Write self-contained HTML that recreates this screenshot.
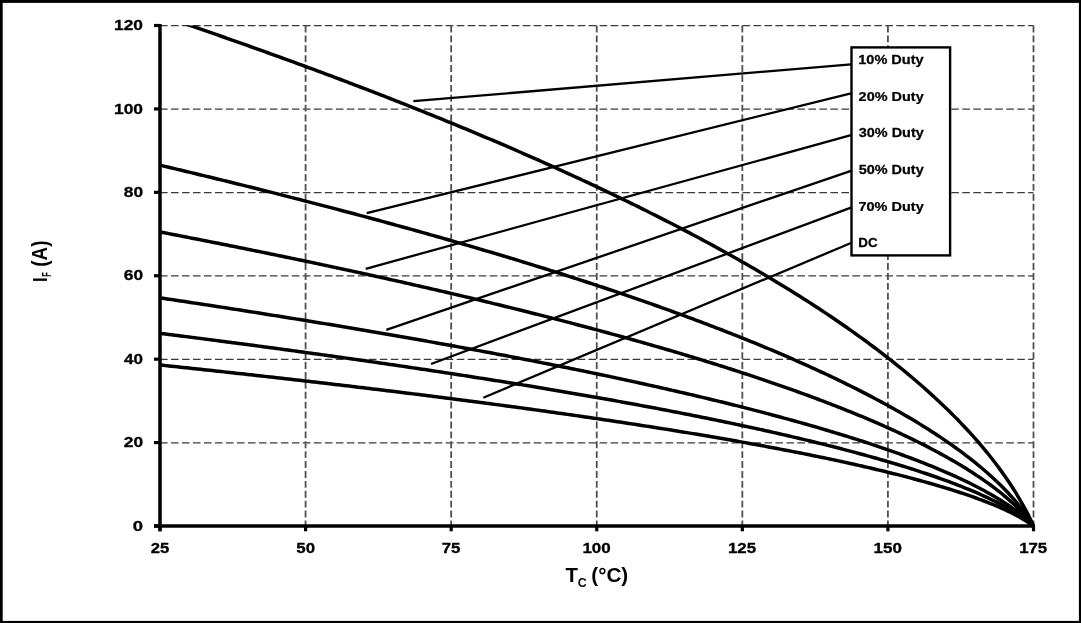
<!DOCTYPE html><html><head><meta charset="utf-8"><style>html,body{margin:0;padding:0;background:#fff;overflow:hidden;}svg{display:block;will-change:transform;}text{font-family:"Liberation Sans",sans-serif;font-weight:bold;fill:#000;font-kerning:none;}</style></head><body>
<svg width="1081" height="623" viewBox="0 0 1081 623">
<rect x="0" y="0" width="1081" height="623" fill="#000"/>
<rect x="2.7" y="2.9" width="1076.20" height="618.00" fill="#fff"/>
<line x1="160.0" y1="442.78" x2="1033.5" y2="442.78" stroke="#3a3a3a" stroke-width="1.3" stroke-dasharray="7.6 3.39"/>
<line x1="160.0" y1="359.37" x2="1033.5" y2="359.37" stroke="#3a3a3a" stroke-width="1.3" stroke-dasharray="7.6 3.39"/>
<line x1="160.0" y1="275.95" x2="1033.5" y2="275.95" stroke="#3a3a3a" stroke-width="1.3" stroke-dasharray="7.6 3.39"/>
<line x1="160.0" y1="192.53" x2="1033.5" y2="192.53" stroke="#3a3a3a" stroke-width="1.3" stroke-dasharray="7.6 3.39"/>
<line x1="160.0" y1="109.12" x2="1033.5" y2="109.12" stroke="#3a3a3a" stroke-width="1.3" stroke-dasharray="7.6 3.39"/>
<line x1="160.0" y1="25.70" x2="1033.5" y2="25.70" stroke="#3a3a3a" stroke-width="1.3" stroke-dasharray="7.6 3.39"/>
<line x1="305.58" y1="25.5" x2="305.58" y2="526.0" stroke="#505050" stroke-width="1.8" stroke-dasharray="6.9 3.0"/>
<line x1="451.17" y1="25.5" x2="451.17" y2="526.0" stroke="#505050" stroke-width="1.8" stroke-dasharray="6.9 3.0"/>
<line x1="596.75" y1="25.5" x2="596.75" y2="526.0" stroke="#505050" stroke-width="1.8" stroke-dasharray="6.9 3.0"/>
<line x1="742.33" y1="25.5" x2="742.33" y2="526.0" stroke="#505050" stroke-width="1.8" stroke-dasharray="6.9 3.0"/>
<line x1="887.92" y1="25.5" x2="887.92" y2="526.0" stroke="#505050" stroke-width="1.8" stroke-dasharray="6.9 3.0"/>
<line x1="1033.50" y1="25.5" x2="1033.50" y2="526.0" stroke="#505050" stroke-width="1.8" stroke-dasharray="6.9 3.0"/>
<defs><clipPath id="pc"><rect x="150" y="25.50" width="900" height="600"/></clipPath></defs>
<path d="M160.00,15.28 L162.91,16.26 L165.82,17.25 L168.74,18.23 L171.65,19.22 L174.56,20.20 L177.47,21.19 L180.38,22.19 L183.29,23.18 L186.20,24.17 L189.12,25.17 L192.03,26.17 L194.94,27.17 L197.85,28.17 L200.76,29.17 L203.68,30.18 L206.59,31.18 L209.50,32.19 L212.41,33.20 L215.32,34.21 L218.23,35.22 L221.15,36.24 L224.06,37.26 L226.97,38.28 L229.88,39.30 L232.79,40.32 L235.70,41.34 L238.62,42.37 L241.53,43.40 L244.44,44.43 L247.35,45.46 L250.26,46.49 L253.17,47.53 L256.08,48.56 L259.00,49.60 L261.91,50.64 L264.82,51.68 L267.73,52.73 L270.64,53.78 L273.56,54.82 L276.47,55.88 L279.38,56.93 L282.29,57.98 L285.20,59.04 L288.11,60.10 L291.02,61.16 L293.94,62.22 L296.85,63.28 L299.76,64.35 L302.67,65.42 L305.58,66.49 L308.50,67.56 L311.41,68.64 L314.32,69.72 L317.23,70.79 L320.14,71.88 L323.05,72.96 L325.97,74.04 L328.88,75.13 L331.79,76.22 L334.70,77.31 L337.61,78.41 L340.52,79.51 L343.44,80.60 L346.35,81.71 L349.26,82.81 L352.17,83.91 L355.08,85.02 L357.99,86.13 L360.90,87.24 L363.82,88.36 L366.73,89.48 L369.64,90.60 L372.55,91.72 L375.46,92.84 L378.38,93.97 L381.29,95.10 L384.20,96.23 L387.11,97.36 L390.02,98.50 L392.93,99.64 L395.85,100.78 L398.76,101.93 L401.67,103.07 L404.58,104.22 L407.49,105.37 L410.40,106.53 L413.31,107.69 L416.23,108.85 L419.14,110.01 L422.05,111.17 L424.96,112.34 L427.87,113.51 L430.79,114.68 L433.70,115.86 L436.61,117.04 L439.52,118.22 L442.43,119.40 L445.34,120.59 L448.25,121.78 L451.17,122.97 L454.08,124.17 L456.99,125.37 L459.90,126.57 L462.81,127.77 L465.73,128.98 L468.64,130.19 L471.55,131.40 L474.46,132.62 L477.37,133.84 L480.28,135.06 L483.19,136.29 L486.11,137.52 L489.02,138.75 L491.93,139.98 L494.84,141.22 L497.75,142.46 L500.67,143.71 L503.58,144.96 L506.49,146.21 L509.40,147.46 L512.31,148.72 L515.22,149.98 L518.13,151.25 L521.05,152.51 L523.96,153.79 L526.87,155.06 L529.78,156.34 L532.69,157.62 L535.61,158.91 L538.52,160.20 L541.43,161.49 L544.34,162.79 L547.25,164.09 L550.16,165.39 L553.08,166.70 L555.99,168.01 L558.90,169.33 L561.81,170.65 L564.72,171.97 L567.63,173.30 L570.55,174.63 L573.46,175.97 L576.37,177.31 L579.28,178.65 L582.19,180.00 L585.10,181.35 L588.01,182.70 L590.93,184.07 L593.84,185.43 L596.75,186.80 L599.66,188.17 L602.57,189.55 L605.49,190.93 L608.40,192.32 L611.31,193.71 L614.22,195.11 L617.13,196.51 L620.04,197.91 L622.95,199.32 L625.87,200.73 L628.78,202.15 L631.69,203.58 L634.60,205.01 L637.51,206.44 L640.42,207.88 L643.34,209.32 L646.25,210.77 L649.16,212.23 L652.07,213.69 L654.98,215.15 L657.89,216.62 L660.81,218.10 L663.72,219.58 L666.63,221.07 L669.54,222.56 L672.45,224.06 L675.37,225.56 L678.28,227.07 L681.19,228.59 L684.10,230.11 L687.01,231.64 L689.92,233.17 L692.84,234.71 L695.75,236.25 L698.66,237.81 L701.57,239.36 L704.48,240.93 L707.39,242.50 L710.30,244.08 L713.22,245.66 L716.13,247.25 L719.04,248.85 L721.95,250.46 L724.86,252.07 L727.77,253.69 L730.69,255.32 L733.60,256.95 L736.51,258.59 L739.42,260.24 L742.33,261.90 L745.25,263.56 L748.16,265.24 L751.07,266.92 L753.98,268.60 L756.89,270.30 L759.80,272.01 L762.72,273.72 L765.63,275.44 L768.54,277.17 L771.45,278.91 L774.36,280.66 L777.27,282.42 L780.18,284.18 L783.10,285.96 L786.01,287.75 L788.92,289.54 L791.83,291.35 L794.74,293.16 L797.65,294.99 L800.57,296.82 L803.48,298.67 L806.39,300.53 L809.30,302.40 L812.21,304.28 L815.12,306.17 L818.04,308.07 L820.95,309.98 L823.86,311.91 L826.77,313.85 L829.68,315.80 L832.60,317.76 L835.51,319.74 L838.42,321.73 L841.33,323.73 L844.24,325.75 L847.15,327.78 L850.07,329.82 L852.98,331.88 L855.89,333.96 L858.80,336.05 L861.71,338.16 L864.62,340.28 L867.53,342.42 L870.45,344.57 L873.36,346.74 L876.27,348.93 L879.18,351.14 L882.09,353.37 L885.00,355.61 L887.92,357.87 L890.83,360.16 L893.74,362.46 L896.65,364.79 L899.56,367.14 L902.48,369.51 L905.39,371.90 L908.30,374.31 L911.21,376.75 L914.12,379.22 L917.03,381.71 L919.95,384.23 L922.86,386.77 L925.77,389.35 L928.68,391.95 L931.59,394.58 L934.50,397.25 L937.41,399.94 L940.33,402.67 L943.24,405.44 L946.15,408.24 L949.06,411.08 L951.97,413.96 L954.88,416.88 L957.80,419.85 L960.71,422.86 L963.62,425.92 L966.53,429.02 L969.44,432.18 L972.36,435.39 L975.27,438.67 L978.18,442.00 L981.09,445.39 L984.00,448.86 L986.91,452.40 L989.83,456.01 L992.74,459.71 L995.65,463.50 L998.56,467.38 L1001.47,471.36 L1004.38,475.46 L1007.29,479.68 L1010.21,484.03 L1013.12,488.53 L1016.03,493.19 L1018.94,498.03 L1021.85,503.08 L1024.76,508.35 L1027.68,513.90 L1030.59,519.76 L1033.50,526.00" fill="none" stroke="#000" stroke-width="3.5" stroke-linejoin="round" clip-path="url(#pc)"/>
<path d="M160.00,165.22 L162.91,165.91 L165.82,166.60 L168.74,167.29 L171.65,167.98 L174.56,168.67 L177.47,169.36 L180.38,170.06 L183.29,170.75 L186.20,171.45 L189.12,172.14 L192.03,172.84 L194.94,173.54 L197.85,174.24 L200.76,174.95 L203.68,175.65 L206.59,176.35 L209.50,177.06 L212.41,177.77 L215.32,178.47 L218.23,179.18 L221.15,179.89 L224.06,180.61 L226.97,181.32 L229.88,182.03 L232.79,182.75 L235.70,183.47 L238.62,184.18 L241.53,184.90 L244.44,185.62 L247.35,186.35 L250.26,187.07 L253.17,187.79 L256.08,188.52 L259.00,189.25 L261.91,189.98 L264.82,190.71 L267.73,191.44 L270.64,192.17 L273.56,192.90 L276.47,193.64 L279.38,194.38 L282.29,195.12 L285.20,195.85 L288.11,196.60 L291.02,197.34 L293.94,198.08 L296.85,198.83 L299.76,199.57 L302.67,200.32 L305.58,201.07 L308.50,201.82 L311.41,202.58 L314.32,203.33 L317.23,204.09 L320.14,204.84 L323.05,205.60 L325.97,206.36 L328.88,207.12 L331.79,207.89 L334.70,208.65 L337.61,209.42 L340.52,210.19 L343.44,210.95 L346.35,211.73 L349.26,212.50 L352.17,213.27 L355.08,214.05 L357.99,214.83 L360.90,215.61 L363.82,216.39 L366.73,217.17 L369.64,217.95 L372.55,218.74 L375.46,219.53 L378.38,220.31 L381.29,221.11 L384.20,221.90 L387.11,222.69 L390.02,223.49 L392.93,224.29 L395.85,225.09 L398.76,225.89 L401.67,226.69 L404.58,227.49 L407.49,228.30 L410.40,229.11 L413.31,229.92 L416.23,230.73 L419.14,231.55 L422.05,232.36 L424.96,233.18 L427.87,234.00 L430.79,234.82 L433.70,235.65 L436.61,236.47 L439.52,237.30 L442.43,238.13 L445.34,238.96 L448.25,239.79 L451.17,240.63 L454.08,241.47 L456.99,242.31 L459.90,243.15 L462.81,243.99 L465.73,244.84 L468.64,245.68 L471.55,246.53 L474.46,247.39 L477.37,248.24 L480.28,249.10 L483.19,249.96 L486.11,250.82 L489.02,251.68 L491.93,252.55 L494.84,253.41 L497.75,254.28 L500.67,255.16 L503.58,256.03 L506.49,256.91 L509.40,257.79 L512.31,258.67 L515.22,259.55 L518.13,260.44 L521.05,261.33 L523.96,262.22 L526.87,263.11 L529.78,264.01 L532.69,264.91 L535.61,265.81 L538.52,266.71 L541.43,267.62 L544.34,268.52 L547.25,269.44 L550.16,270.35 L553.08,271.27 L555.99,272.19 L558.90,273.11 L561.81,274.03 L564.72,274.96 L567.63,275.89 L570.55,276.82 L573.46,277.76 L576.37,278.70 L579.28,279.64 L582.19,280.59 L585.10,281.53 L588.01,282.48 L590.93,283.44 L593.84,284.39 L596.75,285.35 L599.66,286.32 L602.57,287.28 L605.49,288.25 L608.40,289.22 L611.31,290.20 L614.22,291.18 L617.13,292.16 L620.04,293.14 L622.95,294.13 L625.87,295.12 L628.78,296.12 L631.69,297.12 L634.60,298.12 L637.51,299.13 L640.42,300.13 L643.34,301.15 L646.25,302.16 L649.16,303.18 L652.07,304.21 L654.98,305.24 L657.89,306.27 L660.81,307.30 L663.72,308.34 L666.63,309.38 L669.54,310.43 L672.45,311.48 L675.37,312.54 L678.28,313.59 L681.19,314.66 L684.10,315.72 L687.01,316.80 L689.92,317.87 L692.84,318.95 L695.75,320.04 L698.66,321.13 L701.57,322.22 L704.48,323.32 L707.39,324.42 L710.30,325.53 L713.22,326.64 L716.13,327.76 L719.04,328.88 L721.95,330.00 L724.86,331.14 L727.77,332.27 L730.69,333.41 L733.60,334.56 L736.51,335.71 L739.42,336.87 L742.33,338.03 L745.25,339.20 L748.16,340.38 L751.07,341.56 L753.98,342.74 L756.89,343.93 L759.80,345.13 L762.72,346.33 L765.63,347.54 L768.54,348.76 L771.45,349.98 L774.36,351.21 L777.27,352.44 L780.18,353.68 L783.10,354.93 L786.01,356.19 L788.92,357.45 L791.83,358.72 L794.74,359.99 L797.65,361.28 L800.57,362.57 L803.48,363.86 L806.39,365.17 L809.30,366.48 L812.21,367.80 L815.12,369.13 L818.04,370.47 L820.95,371.82 L823.86,373.17 L826.77,374.53 L829.68,375.91 L832.60,377.29 L835.51,378.68 L838.42,380.08 L841.33,381.49 L844.24,382.90 L847.15,384.33 L850.07,385.77 L852.98,387.22 L855.89,388.68 L858.80,390.15 L861.71,391.64 L864.62,393.13 L867.53,394.64 L870.45,396.15 L873.36,397.68 L876.27,399.23 L879.18,400.78 L882.09,402.35 L885.00,403.93 L887.92,405.53 L890.83,407.14 L893.74,408.76 L896.65,410.40 L899.56,412.06 L902.48,413.73 L905.39,415.42 L908.30,417.12 L911.21,418.84 L914.12,420.58 L917.03,422.34 L919.95,424.12 L922.86,425.92 L925.77,427.74 L928.68,429.58 L931.59,431.44 L934.50,433.32 L937.41,435.23 L940.33,437.16 L943.24,439.12 L946.15,441.10 L949.06,443.11 L951.97,445.16 L954.88,447.23 L957.80,449.33 L960.71,451.46 L963.62,453.63 L966.53,455.84 L969.44,458.09 L972.36,460.37 L975.27,462.70 L978.18,465.07 L981.09,467.49 L984.00,469.96 L986.91,472.48 L989.83,475.07 L992.74,477.71 L995.65,480.42 L998.56,483.20 L1001.47,486.06 L1004.38,489.01 L1007.29,492.05 L1010.21,495.19 L1013.12,498.44 L1016.03,501.82 L1018.94,505.34 L1021.85,509.03 L1024.76,512.90 L1027.68,516.98 L1030.59,521.33 L1033.50,526.00" fill="none" stroke="#000" stroke-width="3.5" stroke-linejoin="round" clip-path="url(#pc)"/>
<path d="M160.00,231.96 L162.91,232.52 L165.82,233.08 L168.74,233.64 L171.65,234.20 L174.56,234.76 L177.47,235.33 L180.38,235.90 L183.29,236.46 L186.20,237.03 L189.12,237.60 L192.03,238.17 L194.94,238.74 L197.85,239.31 L200.76,239.88 L203.68,240.45 L206.59,241.03 L209.50,241.60 L212.41,242.18 L215.32,242.76 L218.23,243.33 L221.15,243.91 L224.06,244.49 L226.97,245.07 L229.88,245.66 L232.79,246.24 L235.70,246.82 L238.62,247.41 L241.53,248.00 L244.44,248.58 L247.35,249.17 L250.26,249.76 L253.17,250.35 L256.08,250.94 L259.00,251.54 L261.91,252.13 L264.82,252.73 L267.73,253.32 L270.64,253.92 L273.56,254.52 L276.47,255.12 L279.38,255.72 L282.29,256.32 L285.20,256.92 L288.11,257.53 L291.02,258.13 L293.94,258.74 L296.85,259.35 L299.76,259.95 L302.67,260.56 L305.58,261.17 L308.50,261.79 L311.41,262.40 L314.32,263.01 L317.23,263.63 L320.14,264.25 L323.05,264.87 L325.97,265.49 L328.88,266.11 L331.79,266.73 L334.70,267.35 L337.61,267.98 L340.52,268.60 L343.44,269.23 L346.35,269.86 L349.26,270.49 L352.17,271.12 L355.08,271.75 L357.99,272.38 L360.90,273.02 L363.82,273.66 L366.73,274.29 L369.64,274.93 L372.55,275.57 L375.46,276.21 L378.38,276.86 L381.29,277.50 L384.20,278.15 L387.11,278.80 L390.02,279.44 L392.93,280.09 L395.85,280.75 L398.76,281.40 L401.67,282.05 L404.58,282.71 L407.49,283.37 L410.40,284.03 L413.31,284.69 L416.23,285.35 L419.14,286.01 L422.05,286.68 L424.96,287.34 L427.87,288.01 L430.79,288.68 L433.70,289.35 L436.61,290.03 L439.52,290.70 L442.43,291.38 L445.34,292.05 L448.25,292.73 L451.17,293.41 L454.08,294.10 L456.99,294.78 L459.90,295.47 L462.81,296.15 L465.73,296.84 L468.64,297.53 L471.55,298.23 L474.46,298.92 L477.37,299.62 L480.28,300.32 L483.19,301.02 L486.11,301.72 L489.02,302.42 L491.93,303.13 L494.84,303.83 L497.75,304.54 L500.67,305.25 L503.58,305.97 L506.49,306.68 L509.40,307.40 L512.31,308.12 L515.22,308.84 L518.13,309.56 L521.05,310.28 L523.96,311.01 L526.87,311.74 L529.78,312.47 L532.69,313.20 L535.61,313.93 L538.52,314.67 L541.43,315.41 L544.34,316.15 L547.25,316.89 L550.16,317.64 L553.08,318.39 L555.99,319.13 L558.90,319.89 L561.81,320.64 L564.72,321.40 L567.63,322.15 L570.55,322.91 L573.46,323.68 L576.37,324.44 L579.28,325.21 L582.19,325.98 L585.10,326.75 L588.01,327.53 L590.93,328.30 L593.84,329.08 L596.75,329.87 L599.66,330.65 L602.57,331.44 L605.49,332.23 L608.40,333.02 L611.31,333.82 L614.22,334.61 L617.13,335.41 L620.04,336.22 L622.95,337.02 L625.87,337.83 L628.78,338.64 L631.69,339.45 L634.60,340.27 L637.51,341.09 L640.42,341.91 L643.34,342.74 L646.25,343.57 L649.16,344.40 L652.07,345.23 L654.98,346.07 L657.89,346.91 L660.81,347.75 L663.72,348.60 L666.63,349.45 L669.54,350.30 L672.45,351.16 L675.37,352.02 L678.28,352.88 L681.19,353.75 L684.10,354.62 L687.01,355.49 L689.92,356.37 L692.84,357.25 L695.75,358.13 L698.66,359.02 L701.57,359.91 L704.48,360.81 L707.39,361.71 L710.30,362.61 L713.22,363.52 L716.13,364.43 L719.04,365.34 L721.95,366.26 L724.86,367.18 L727.77,368.11 L730.69,369.04 L733.60,369.97 L736.51,370.91 L739.42,371.85 L742.33,372.80 L745.25,373.76 L748.16,374.71 L751.07,375.67 L753.98,376.64 L756.89,377.61 L759.80,378.59 L762.72,379.57 L765.63,380.55 L768.54,381.54 L771.45,382.54 L774.36,383.54 L777.27,384.55 L780.18,385.56 L783.10,386.57 L786.01,387.60 L788.92,388.63 L791.83,389.66 L794.74,390.70 L797.65,391.74 L800.57,392.80 L803.48,393.85 L806.39,394.92 L809.30,395.99 L812.21,397.07 L815.12,398.15 L818.04,399.24 L820.95,400.34 L823.86,401.44 L826.77,402.55 L829.68,403.67 L832.60,404.79 L835.51,405.93 L838.42,407.07 L841.33,408.22 L844.24,409.37 L847.15,410.54 L850.07,411.71 L852.98,412.89 L855.89,414.08 L858.80,415.28 L861.71,416.49 L864.62,417.71 L867.53,418.93 L870.45,420.17 L873.36,421.42 L876.27,422.68 L879.18,423.94 L882.09,425.22 L885.00,426.51 L887.92,427.81 L890.83,429.12 L893.74,430.45 L896.65,431.78 L899.56,433.13 L902.48,434.50 L905.39,435.87 L908.30,437.26 L911.21,438.66 L914.12,440.08 L917.03,441.52 L919.95,442.97 L922.86,444.43 L925.77,445.91 L928.68,447.41 L931.59,448.93 L934.50,450.46 L937.41,452.02 L940.33,453.59 L943.24,455.19 L946.15,456.81 L949.06,458.45 L951.97,460.11 L954.88,461.80 L957.80,463.51 L960.71,465.25 L963.62,467.02 L966.53,468.82 L969.44,470.65 L972.36,472.51 L975.27,474.41 L978.18,476.34 L981.09,478.31 L984.00,480.33 L986.91,482.38 L989.83,484.49 L992.74,486.64 L995.65,488.85 L998.56,491.12 L1001.47,493.45 L1004.38,495.85 L1007.29,498.33 L1010.21,500.89 L1013.12,503.54 L1016.03,506.29 L1018.94,509.16 L1021.85,512.17 L1024.76,515.32 L1027.68,518.65 L1030.59,522.20 L1033.50,526.00" fill="none" stroke="#000" stroke-width="3.5" stroke-linejoin="round" clip-path="url(#pc)"/>
<path d="M160.00,297.86 L162.91,298.29 L165.82,298.72 L168.74,299.16 L171.65,299.60 L174.56,300.03 L177.47,300.47 L180.38,300.91 L183.29,301.35 L186.20,301.79 L189.12,302.23 L192.03,302.67 L194.94,303.12 L197.85,303.56 L200.76,304.00 L203.68,304.45 L206.59,304.89 L209.50,305.34 L212.41,305.79 L215.32,306.23 L218.23,306.68 L221.15,307.13 L224.06,307.58 L226.97,308.03 L229.88,308.49 L232.79,308.94 L235.70,309.39 L238.62,309.85 L241.53,310.30 L244.44,310.76 L247.35,311.21 L250.26,311.67 L253.17,312.13 L256.08,312.59 L259.00,313.05 L261.91,313.51 L264.82,313.97 L267.73,314.43 L270.64,314.90 L273.56,315.36 L276.47,315.83 L279.38,316.29 L282.29,316.76 L285.20,317.23 L288.11,317.69 L291.02,318.16 L293.94,318.63 L296.85,319.11 L299.76,319.58 L302.67,320.05 L305.58,320.53 L308.50,321.00 L311.41,321.48 L314.32,321.95 L317.23,322.43 L320.14,322.91 L323.05,323.39 L325.97,323.87 L328.88,324.35 L331.79,324.83 L334.70,325.32 L337.61,325.80 L340.52,326.29 L343.44,326.77 L346.35,327.26 L349.26,327.75 L352.17,328.24 L355.08,328.73 L357.99,329.22 L360.90,329.72 L363.82,330.21 L366.73,330.70 L369.64,331.20 L372.55,331.70 L375.46,332.19 L378.38,332.69 L381.29,333.19 L384.20,333.69 L387.11,334.20 L390.02,334.70 L392.93,335.21 L395.85,335.71 L398.76,336.22 L401.67,336.73 L404.58,337.23 L407.49,337.74 L410.40,338.26 L413.31,338.77 L416.23,339.28 L419.14,339.80 L422.05,340.31 L424.96,340.83 L427.87,341.35 L430.79,341.87 L433.70,342.39 L436.61,342.91 L439.52,343.43 L442.43,343.96 L445.34,344.48 L448.25,345.01 L451.17,345.54 L454.08,346.07 L456.99,346.60 L459.90,347.13 L462.81,347.67 L465.73,348.20 L468.64,348.74 L471.55,349.27 L474.46,349.81 L477.37,350.35 L480.28,350.90 L483.19,351.44 L486.11,351.98 L489.02,352.53 L491.93,353.08 L494.84,353.62 L497.75,354.17 L500.67,354.73 L503.58,355.28 L506.49,355.83 L509.40,356.39 L512.31,356.95 L515.22,357.51 L518.13,358.07 L521.05,358.63 L523.96,359.19 L526.87,359.76 L529.78,360.32 L532.69,360.89 L535.61,361.46 L538.52,362.03 L541.43,362.61 L544.34,363.18 L547.25,363.76 L550.16,364.33 L553.08,364.91 L555.99,365.50 L558.90,366.08 L561.81,366.66 L564.72,367.25 L567.63,367.84 L570.55,368.43 L573.46,369.02 L576.37,369.61 L579.28,370.21 L582.19,370.81 L585.10,371.41 L588.01,372.01 L590.93,372.61 L593.84,373.22 L596.75,373.82 L599.66,374.43 L602.57,375.04 L605.49,375.65 L608.40,376.27 L611.31,376.89 L614.22,377.51 L617.13,378.13 L620.04,378.75 L622.95,379.37 L625.87,380.00 L628.78,380.63 L631.69,381.26 L634.60,381.90 L637.51,382.53 L640.42,383.17 L643.34,383.81 L646.25,384.45 L649.16,385.10 L652.07,385.75 L654.98,386.39 L657.89,387.05 L660.81,387.70 L663.72,388.36 L666.63,389.02 L669.54,389.68 L672.45,390.34 L675.37,391.01 L678.28,391.68 L681.19,392.35 L684.10,393.03 L687.01,393.71 L689.92,394.39 L692.84,395.07 L695.75,395.76 L698.66,396.44 L701.57,397.14 L704.48,397.83 L707.39,398.53 L710.30,399.23 L713.22,399.93 L716.13,400.64 L719.04,401.35 L721.95,402.06 L724.86,402.77 L727.77,403.49 L730.69,404.21 L733.60,404.94 L736.51,405.67 L739.42,406.40 L742.33,407.14 L745.25,407.88 L748.16,408.62 L751.07,409.36 L753.98,410.11 L756.89,410.87 L759.80,411.62 L762.72,412.38 L765.63,413.15 L768.54,413.92 L771.45,414.69 L774.36,415.47 L777.27,416.25 L780.18,417.03 L783.10,417.82 L786.01,418.62 L788.92,419.41 L791.83,420.22 L794.74,421.02 L797.65,421.83 L800.57,422.65 L803.48,423.47 L806.39,424.30 L809.30,425.13 L812.21,425.96 L815.12,426.80 L818.04,427.65 L820.95,428.50 L823.86,429.36 L826.77,430.22 L829.68,431.08 L832.60,431.96 L835.51,432.84 L838.42,433.72 L841.33,434.61 L844.24,435.51 L847.15,436.41 L850.07,437.32 L852.98,438.24 L855.89,439.16 L858.80,440.10 L861.71,441.03 L864.62,441.98 L867.53,442.93 L870.45,443.89 L873.36,444.86 L876.27,445.83 L879.18,446.82 L882.09,447.81 L885.00,448.81 L887.92,449.82 L890.83,450.83 L893.74,451.86 L896.65,452.90 L899.56,453.95 L902.48,455.00 L905.39,456.07 L908.30,457.15 L911.21,458.24 L914.12,459.34 L917.03,460.45 L919.95,461.57 L922.86,462.71 L925.77,463.86 L928.68,465.02 L931.59,466.20 L934.50,467.39 L937.41,468.60 L940.33,469.82 L943.24,471.06 L946.15,472.31 L949.06,473.59 L951.97,474.88 L954.88,476.19 L957.80,477.52 L960.71,478.87 L963.62,480.24 L966.53,481.63 L969.44,483.05 L972.36,484.50 L975.27,485.97 L978.18,487.47 L981.09,489.00 L984.00,490.56 L986.91,492.16 L989.83,493.79 L992.74,495.46 L995.65,497.18 L998.56,498.94 L1001.47,500.75 L1004.38,502.61 L1007.29,504.53 L1010.21,506.51 L1013.12,508.57 L1016.03,510.71 L1018.94,512.94 L1021.85,515.27 L1024.76,517.71 L1027.68,520.30 L1030.59,523.05 L1033.50,526.00" fill="none" stroke="#000" stroke-width="3.5" stroke-linejoin="round" clip-path="url(#pc)"/>
<path d="M160.00,333.31 L162.91,333.67 L165.82,334.04 L168.74,334.41 L171.65,334.78 L174.56,335.15 L177.47,335.52 L180.38,335.89 L183.29,336.26 L186.20,336.63 L189.12,337.00 L192.03,337.38 L194.94,337.75 L197.85,338.13 L200.76,338.50 L203.68,338.88 L206.59,339.25 L209.50,339.63 L212.41,340.01 L215.32,340.38 L218.23,340.76 L221.15,341.14 L224.06,341.52 L226.97,341.90 L229.88,342.29 L232.79,342.67 L235.70,343.05 L238.62,343.43 L241.53,343.82 L244.44,344.20 L247.35,344.59 L250.26,344.98 L253.17,345.36 L256.08,345.75 L259.00,346.14 L261.91,346.53 L264.82,346.92 L267.73,347.31 L270.64,347.70 L273.56,348.09 L276.47,348.49 L279.38,348.88 L282.29,349.27 L285.20,349.67 L288.11,350.06 L291.02,350.46 L293.94,350.86 L296.85,351.26 L299.76,351.65 L302.67,352.05 L305.58,352.45 L308.50,352.86 L311.41,353.26 L314.32,353.66 L317.23,354.06 L320.14,354.47 L323.05,354.87 L325.97,355.28 L328.88,355.69 L331.79,356.09 L334.70,356.50 L337.61,356.91 L340.52,357.32 L343.44,357.73 L346.35,358.14 L349.26,358.56 L352.17,358.97 L355.08,359.39 L357.99,359.80 L360.90,360.22 L363.82,360.63 L366.73,361.05 L369.64,361.47 L372.55,361.89 L375.46,362.31 L378.38,362.73 L381.29,363.15 L384.20,363.58 L387.11,364.00 L390.02,364.43 L392.93,364.85 L395.85,365.28 L398.76,365.71 L401.67,366.14 L404.58,366.57 L407.49,367.00 L410.40,367.43 L413.31,367.86 L416.23,368.30 L419.14,368.73 L422.05,369.17 L424.96,369.60 L427.87,370.04 L430.79,370.48 L433.70,370.92 L436.61,371.36 L439.52,371.80 L442.43,372.25 L445.34,372.69 L448.25,373.14 L451.17,373.58 L454.08,374.03 L456.99,374.48 L459.90,374.93 L462.81,375.38 L465.73,375.83 L468.64,376.28 L471.55,376.74 L474.46,377.19 L477.37,377.65 L480.28,378.11 L483.19,378.56 L486.11,379.02 L489.02,379.48 L491.93,379.95 L494.84,380.41 L497.75,380.87 L500.67,381.34 L503.58,381.81 L506.49,382.28 L509.40,382.75 L512.31,383.22 L515.22,383.69 L518.13,384.16 L521.05,384.64 L523.96,385.11 L526.87,385.59 L529.78,386.07 L532.69,386.55 L535.61,387.03 L538.52,387.51 L541.43,388.00 L544.34,388.48 L547.25,388.97 L550.16,389.46 L553.08,389.95 L555.99,390.44 L558.90,390.93 L561.81,391.42 L564.72,391.92 L567.63,392.42 L570.55,392.91 L573.46,393.41 L576.37,393.92 L579.28,394.42 L582.19,394.92 L585.10,395.43 L588.01,395.94 L590.93,396.45 L593.84,396.96 L596.75,397.47 L599.66,397.98 L602.57,398.50 L605.49,399.02 L608.40,399.54 L611.31,400.06 L614.22,400.58 L617.13,401.10 L620.04,401.63 L622.95,402.16 L625.87,402.69 L628.78,403.22 L631.69,403.75 L634.60,404.29 L637.51,404.83 L640.42,405.36 L643.34,405.91 L646.25,406.45 L649.16,406.99 L652.07,407.54 L654.98,408.09 L657.89,408.64 L660.81,409.19 L663.72,409.75 L666.63,410.30 L669.54,410.86 L672.45,411.42 L675.37,411.99 L678.28,412.55 L681.19,413.12 L684.10,413.69 L687.01,414.26 L689.92,414.84 L692.84,415.41 L695.75,415.99 L698.66,416.58 L701.57,417.16 L704.48,417.75 L707.39,418.34 L710.30,418.93 L713.22,419.52 L716.13,420.12 L719.04,420.72 L721.95,421.32 L724.86,421.92 L727.77,422.53 L730.69,423.14 L733.60,423.75 L736.51,424.37 L739.42,424.99 L742.33,425.61 L745.25,426.23 L748.16,426.86 L751.07,427.49 L753.98,428.12 L756.89,428.76 L759.80,429.40 L762.72,430.04 L765.63,430.69 L768.54,431.33 L771.45,431.99 L774.36,432.64 L777.27,433.30 L780.18,433.97 L783.10,434.63 L786.01,435.30 L788.92,435.98 L791.83,436.65 L794.74,437.33 L797.65,438.02 L800.57,438.71 L803.48,439.40 L806.39,440.10 L809.30,440.80 L812.21,441.51 L815.12,442.22 L818.04,442.93 L820.95,443.65 L823.86,444.37 L826.77,445.10 L829.68,445.83 L832.60,446.57 L835.51,447.31 L838.42,448.06 L841.33,448.81 L844.24,449.57 L847.15,450.34 L850.07,451.10 L852.98,451.88 L855.89,452.66 L858.80,453.44 L861.71,454.24 L864.62,455.03 L867.53,455.84 L870.45,456.65 L873.36,457.47 L876.27,458.29 L879.18,459.12 L882.09,459.96 L885.00,460.80 L887.92,461.65 L890.83,462.51 L893.74,463.38 L896.65,464.26 L899.56,465.14 L902.48,466.04 L905.39,466.94 L908.30,467.85 L911.21,468.77 L914.12,469.70 L917.03,470.64 L919.95,471.59 L922.86,472.55 L925.77,473.52 L928.68,474.50 L931.59,475.49 L934.50,476.50 L937.41,477.52 L940.33,478.55 L943.24,479.60 L946.15,480.66 L949.06,481.73 L951.97,482.82 L954.88,483.93 L957.80,485.05 L960.71,486.19 L963.62,487.35 L966.53,488.53 L969.44,489.73 L972.36,490.95 L975.27,492.19 L978.18,493.46 L981.09,494.75 L984.00,496.07 L986.91,497.42 L989.83,498.80 L992.74,500.21 L995.65,501.66 L998.56,503.14 L1001.47,504.67 L1004.38,506.24 L1007.29,507.87 L1010.21,509.54 L1013.12,511.28 L1016.03,513.09 L1018.94,514.97 L1021.85,516.93 L1024.76,519.00 L1027.68,521.18 L1030.59,523.51 L1033.50,526.00" fill="none" stroke="#000" stroke-width="3.5" stroke-linejoin="round" clip-path="url(#pc)"/>
<path d="M160.00,365.01 L162.91,365.31 L165.82,365.62 L168.74,365.93 L171.65,366.24 L174.56,366.54 L177.47,366.85 L180.38,367.16 L183.29,367.47 L186.20,367.78 L189.12,368.09 L192.03,368.41 L194.94,368.72 L197.85,369.03 L200.76,369.34 L203.68,369.66 L206.59,369.97 L209.50,370.29 L212.41,370.60 L215.32,370.92 L218.23,371.24 L221.15,371.55 L224.06,371.87 L226.97,372.19 L229.88,372.51 L232.79,372.83 L235.70,373.15 L238.62,373.47 L241.53,373.79 L244.44,374.11 L247.35,374.43 L250.26,374.75 L253.17,375.08 L256.08,375.40 L259.00,375.73 L261.91,376.05 L264.82,376.38 L267.73,376.70 L270.64,377.03 L273.56,377.36 L276.47,377.69 L279.38,378.02 L282.29,378.35 L285.20,378.68 L288.11,379.01 L291.02,379.34 L293.94,379.67 L296.85,380.00 L299.76,380.33 L302.67,380.67 L305.58,381.00 L308.50,381.34 L311.41,381.67 L314.32,382.01 L317.23,382.35 L320.14,382.69 L323.05,383.02 L325.97,383.36 L328.88,383.70 L331.79,384.04 L334.70,384.39 L337.61,384.73 L340.52,385.07 L343.44,385.41 L346.35,385.76 L349.26,386.10 L352.17,386.45 L355.08,386.79 L357.99,387.14 L360.90,387.49 L363.82,387.84 L366.73,388.19 L369.64,388.54 L372.55,388.89 L375.46,389.24 L378.38,389.59 L381.29,389.94 L384.20,390.30 L387.11,390.65 L390.02,391.01 L392.93,391.36 L395.85,391.72 L398.76,392.08 L401.67,392.44 L404.58,392.79 L407.49,393.15 L410.40,393.52 L413.31,393.88 L416.23,394.24 L419.14,394.60 L422.05,394.97 L424.96,395.33 L427.87,395.70 L430.79,396.06 L433.70,396.43 L436.61,396.80 L439.52,397.17 L442.43,397.54 L445.34,397.91 L448.25,398.28 L451.17,398.66 L454.08,399.03 L456.99,399.40 L459.90,399.78 L462.81,400.16 L465.73,400.53 L468.64,400.91 L471.55,401.29 L474.46,401.67 L477.37,402.05 L480.28,402.43 L483.19,402.82 L486.11,403.20 L489.02,403.59 L491.93,403.97 L494.84,404.36 L497.75,404.75 L500.67,405.14 L503.58,405.53 L506.49,405.92 L509.40,406.31 L512.31,406.70 L515.22,407.10 L518.13,407.49 L521.05,407.89 L523.96,408.29 L526.87,408.69 L529.78,409.09 L532.69,409.49 L535.61,409.89 L538.52,410.29 L541.43,410.70 L544.34,411.10 L547.25,411.51 L550.16,411.92 L553.08,412.33 L555.99,412.74 L558.90,413.15 L561.81,413.56 L564.72,413.98 L567.63,414.39 L570.55,414.81 L573.46,415.22 L576.37,415.64 L579.28,416.06 L582.19,416.49 L585.10,416.91 L588.01,417.33 L590.93,417.76 L593.84,418.19 L596.75,418.61 L599.66,419.04 L602.57,419.47 L605.49,419.91 L608.40,420.34 L611.31,420.78 L614.22,421.21 L617.13,421.65 L620.04,422.09 L622.95,422.53 L625.87,422.97 L628.78,423.42 L631.69,423.86 L634.60,424.31 L637.51,424.76 L640.42,425.21 L643.34,425.66 L646.25,426.11 L649.16,426.57 L652.07,427.03 L654.98,427.49 L657.89,427.95 L660.81,428.41 L663.72,428.87 L666.63,429.34 L669.54,429.80 L672.45,430.27 L675.37,430.74 L678.28,431.22 L681.19,431.69 L684.10,432.17 L687.01,432.64 L689.92,433.12 L692.84,433.61 L695.75,434.09 L698.66,434.58 L701.57,435.06 L704.48,435.55 L707.39,436.05 L710.30,436.54 L713.22,437.04 L716.13,437.54 L719.04,438.04 L721.95,438.54 L724.86,439.04 L727.77,439.55 L730.69,440.06 L733.60,440.57 L736.51,441.09 L739.42,441.60 L742.33,442.12 L745.25,442.64 L748.16,443.17 L751.07,443.69 L753.98,444.22 L756.89,444.75 L759.80,445.29 L762.72,445.83 L765.63,446.37 L768.54,446.91 L771.45,447.45 L774.36,448.00 L777.27,448.55 L780.18,449.11 L783.10,449.66 L786.01,450.22 L788.92,450.79 L791.83,451.35 L794.74,451.92 L797.65,452.49 L800.57,453.07 L803.48,453.65 L806.39,454.23 L809.30,454.82 L812.21,455.41 L815.12,456.00 L818.04,456.60 L820.95,457.20 L823.86,457.80 L826.77,458.41 L829.68,459.02 L832.60,459.64 L835.51,460.26 L838.42,460.88 L841.33,461.51 L844.24,462.14 L847.15,462.78 L850.07,463.42 L852.98,464.07 L855.89,464.72 L858.80,465.38 L861.71,466.04 L864.62,466.71 L867.53,467.38 L870.45,468.06 L873.36,468.74 L876.27,469.43 L879.18,470.12 L882.09,470.82 L885.00,471.53 L887.92,472.24 L890.83,472.96 L893.74,473.68 L896.65,474.42 L899.56,475.15 L902.48,475.90 L905.39,476.65 L908.30,477.41 L911.21,478.18 L914.12,478.96 L917.03,479.74 L919.95,480.54 L922.86,481.34 L925.77,482.15 L928.68,482.97 L931.59,483.80 L934.50,484.64 L937.41,485.49 L940.33,486.36 L943.24,487.23 L946.15,488.12 L949.06,489.01 L951.97,489.92 L954.88,490.85 L957.80,491.79 L960.71,492.74 L963.62,493.71 L966.53,494.69 L969.44,495.69 L972.36,496.71 L975.27,497.75 L978.18,498.81 L981.09,499.89 L984.00,500.99 L986.91,502.12 L989.83,503.27 L992.74,504.45 L995.65,505.66 L998.56,506.90 L1001.47,508.18 L1004.38,509.49 L1007.29,510.85 L1010.21,512.25 L1013.12,513.70 L1016.03,515.21 L1018.94,516.78 L1021.85,518.43 L1024.76,520.15 L1027.68,521.98 L1030.59,523.92 L1033.50,526.00" fill="none" stroke="#000" stroke-width="3.5" stroke-linejoin="round" clip-path="url(#pc)"/>
<line x1="413.3" y1="101.2" x2="851" y2="64.4" stroke="#000" stroke-width="2.3"/>
<line x1="366.7" y1="213.2" x2="851" y2="93.3" stroke="#000" stroke-width="2.3"/>
<line x1="365.7" y1="268.8" x2="851" y2="135.2" stroke="#000" stroke-width="2.3"/>
<line x1="386.3" y1="329.9" x2="851" y2="170.8" stroke="#000" stroke-width="2.3"/>
<line x1="431" y1="364" x2="851" y2="207.6" stroke="#000" stroke-width="2.3"/>
<line x1="483.3" y1="397.7" x2="851" y2="243" stroke="#000" stroke-width="2.3"/>
<rect x="851.5" y="47.4" width="98.6" height="208" fill="#fff" stroke="#000" stroke-width="2.4"/>
<text transform="translate(858.21,64.40) scale(1.1131,1)" font-size="13.08" stroke="#000" stroke-width="0.25" stroke-linejoin="round">10%&#160;Duty</text>
<text transform="translate(858.62,100.70) scale(1.1060,1)" font-size="13.08" stroke="#000" stroke-width="0.25" stroke-linejoin="round">20%&#160;Duty</text>
<text transform="translate(858.79,137.30) scale(1.1031,1)" font-size="13.08" stroke="#000" stroke-width="0.25" stroke-linejoin="round">30%&#160;Duty</text>
<text transform="translate(858.68,174.00) scale(1.1051,1)" font-size="13.08" stroke="#000" stroke-width="0.25" stroke-linejoin="round">50%&#160;Duty</text>
<text transform="translate(858.50,210.50) scale(1.1081,1)" font-size="13.08" stroke="#000" stroke-width="0.25" stroke-linejoin="round">70%&#160;Duty</text>
<text transform="translate(858.23,247.20) scale(1.0220,1)" font-size="13.08" stroke="#000" stroke-width="0.25" stroke-linejoin="round">DC</text>
<line x1="160.0" y1="24.0" x2="160.0" y2="531.3" stroke="#000" stroke-width="3.5"/>
<line x1="154.0" y1="526.0" x2="1035.0" y2="526.0" stroke="#000" stroke-width="3.5"/>
<line x1="154.0" y1="526.00" x2="160.0" y2="526.00" stroke="#000" stroke-width="3.2"/>
<line x1="154.0" y1="442.58" x2="160.0" y2="442.58" stroke="#000" stroke-width="3.2"/>
<line x1="154.0" y1="359.17" x2="160.0" y2="359.17" stroke="#000" stroke-width="3.2"/>
<line x1="154.0" y1="275.75" x2="160.0" y2="275.75" stroke="#000" stroke-width="3.2"/>
<line x1="154.0" y1="192.33" x2="160.0" y2="192.33" stroke="#000" stroke-width="3.2"/>
<line x1="154.0" y1="108.92" x2="160.0" y2="108.92" stroke="#000" stroke-width="3.2"/>
<line x1="154.0" y1="25.50" x2="160.0" y2="25.50" stroke="#000" stroke-width="3.2"/>
<line x1="160.00" y1="526.0" x2="160.00" y2="531.3" stroke="#000" stroke-width="3.2"/>
<line x1="305.58" y1="526.0" x2="305.58" y2="531.3" stroke="#000" stroke-width="3.2"/>
<line x1="451.17" y1="526.0" x2="451.17" y2="531.3" stroke="#000" stroke-width="3.2"/>
<line x1="596.75" y1="526.0" x2="596.75" y2="531.3" stroke="#000" stroke-width="3.2"/>
<line x1="742.33" y1="526.0" x2="742.33" y2="531.3" stroke="#000" stroke-width="3.2"/>
<line x1="887.92" y1="526.0" x2="887.92" y2="531.3" stroke="#000" stroke-width="3.2"/>
<line x1="1033.50" y1="526.0" x2="1033.50" y2="531.3" stroke="#000" stroke-width="3.2"/>
<text transform="translate(132.82,530.70) scale(1.2587,1)" font-size="14.70" stroke="#000" stroke-width="0.30" stroke-linejoin="round">0</text>
<text transform="translate(123.75,447.28) scale(1.1812,1)" font-size="14.70" stroke="#000" stroke-width="0.30" stroke-linejoin="round">20</text>
<text transform="translate(124.09,363.87) scale(1.1594,1)" font-size="14.70" stroke="#000" stroke-width="0.30" stroke-linejoin="round">40</text>
<text transform="translate(123.71,280.45) scale(1.1835,1)" font-size="14.70" stroke="#000" stroke-width="0.30" stroke-linejoin="round">60</text>
<text transform="translate(123.80,197.03) scale(1.1779,1)" font-size="14.70" stroke="#000" stroke-width="0.30" stroke-linejoin="round">80</text>
<text transform="translate(114.05,113.62) scale(1.1827,1)" font-size="14.70" stroke="#000" stroke-width="0.30" stroke-linejoin="round">100</text>
<text transform="translate(114.05,30.20) scale(1.1827,1)" font-size="14.70" stroke="#000" stroke-width="0.30" stroke-linejoin="round">120</text>
<text transform="translate(150.67,552.90) scale(1.1340,1)" font-size="14.70" stroke="#000" stroke-width="0.30" stroke-linejoin="round">25</text>
<text transform="translate(296.32,552.90) scale(1.1441,1)" font-size="14.70" stroke="#000" stroke-width="0.30" stroke-linejoin="round">50</text>
<text transform="translate(441.69,552.90) scale(1.1430,1)" font-size="14.70" stroke="#000" stroke-width="0.30" stroke-linejoin="round">75</text>
<text transform="translate(582.38,552.90) scale(1.1566,1)" font-size="14.70" stroke="#000" stroke-width="0.30" stroke-linejoin="round">100</text>
<text transform="translate(727.97,552.90) scale(1.1470,1)" font-size="14.70" stroke="#000" stroke-width="0.30" stroke-linejoin="round">125</text>
<text transform="translate(873.55,552.90) scale(1.1566,1)" font-size="14.70" stroke="#000" stroke-width="0.30" stroke-linejoin="round">150</text>
<text transform="translate(1019.14,552.90) scale(1.1470,1)" font-size="14.70" stroke="#000" stroke-width="0.30" stroke-linejoin="round">175</text>
<text transform="translate(565.57,582.10) scale(0.9669,1)" font-size="21.08">T</text>
<text transform="translate(577.69,587.20) scale(0.9137,1)" font-size="13.56">C</text>
<text transform="translate(591.27,582.10) scale(0.9807,1)" font-size="21.08">(°C)</text>
<g transform="translate(46.8,281) rotate(-90)"><text transform="translate(-1.11,0.00) scale(0.8619,1)" font-size="19.33">I</text><text transform="translate(4.30,4.50) scale(0.6135,1)" font-size="12.21">F</text><text transform="translate(14.26,-0.20) scale(0.8419,1)" font-size="22.40">(A)</text></g>
</svg></body></html>
